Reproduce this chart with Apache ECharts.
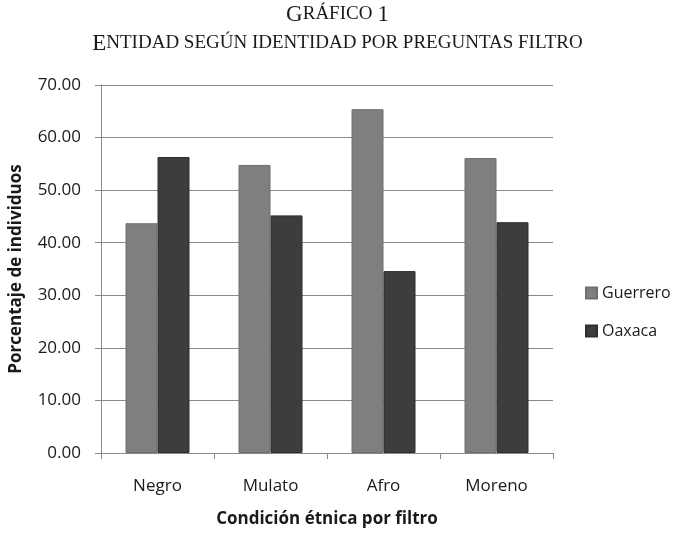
<!DOCTYPE html>
<html>
<head>
<meta charset="utf-8">
<script src="https://cdn.jsdelivr.net/npm/echarts@6/dist/echarts.min.js"></script>
<style>
  html, body { margin: 0; padding: 0; background: #fff; }
  #chart { width: 675px; height: 537px; }
</style>
</head>
<body>
<div id="chart"></div>
<script>
// Categories and percentage values by state
const categories = ['Negro', 'Mulato', 'Afro', 'Moreno'];
const guerrero = [43.7, 54.8, 65.4, 56.1];
const oaxaca = [56.3, 45.2, 34.6, 43.9];
const seriesNames = ['Guerrero', 'Oaxaca'];

const chart = echarts.init(document.getElementById('chart'), null, { renderer: 'canvas' });

const uiFont = '"Open Sans", "Noto Sans", sans-serif';
const serif = '"Liberation Serif", "DejaVu Serif", serif';

chart.setOption({
  backgroundColor: '#ffffff',
  animation: false,
  title: [{
    left: 'center',
    top: 0,
    padding: 0,
    // small-caps heading built from two font sizes
    text: '{b|G}{s|RÁFICO} {b|1}\n{b|E}{s|NTIDAD SEGÚN IDENTIDAD POR PREGUNTAS FILTRO}',
    textStyle: {
      fontWeight: 'normal',
      rich: {
        b: { fontFamily: serif, fontSize: 23, fontWeight: 'normal', color: '#1a1a1a', lineHeight: 29 },
        s: { fontFamily: serif, fontSize: 19, fontWeight: 'normal', color: '#1a1a1a', lineHeight: 29 }
      }
    }
  }],
  legend: {
    orient: 'vertical',
    left: 580,
    top: 279,
    itemWidth: 11,
    itemHeight: 11,
    itemGap: 20,
    icon: 'rect',
    textStyle: { fontFamily: uiFont, fontSize: 16, lineHeight: 18, color: '#1a1a1a' },
    data: seriesNames
  },
  grid: { left: 100, top: 85, width: 453, height: 368, containLabel: false },
  xAxis: {
    type: 'category',
    data: categories,
    name: 'Condición étnica por filtro',
    nameLocation: 'middle',
    nameGap: 58,
    nameTextStyle: { fontFamily: uiFont, fontSize: 17, fontWeight: 'bold', color: '#1a1a1a' },
    axisLine: { lineStyle: { color: '#8a8a8a', width: 1 } },
    axisTick: { show: true, length: 6, inside: false, lineStyle: { color: '#8a8a8a' } },
    axisLabel: { fontFamily: uiFont, fontSize: 17, color: '#1a1a1a', margin: 25 }
  },
  yAxis: {
    type: 'value',
    min: 0,
    max: 70,
    interval: 10,
    name: 'Porcentaje de individuos',
    nameLocation: 'middle',
    nameGap: 76,
    nameTextStyle: { fontFamily: uiFont, fontSize: 17, fontWeight: 'bold', color: '#1a1a1a' },
    axisLine: { show: true, lineStyle: { color: '#8a8a8a', width: 1 } },
    axisTick: { show: true, length: 6, lineStyle: { color: '#8a8a8a' } },
    axisLabel: {
      fontFamily: uiFont, fontSize: 17, color: '#1a1a1a', margin: 20,
      formatter: v => v.toFixed(2)
    },
    splitLine: { show: true, lineStyle: { color: '#8a8a8a', width: 1 } }
  },
  series: [
    {
      name: seriesNames[0],
      type: 'bar',
      data: guerrero,
      barWidth: 32,
      barGap: '0%',
      itemStyle: { color: '#7f7f7f', borderColor: '#6e6e6e', borderWidth: 1 }
    },
    {
      name: seriesNames[1],
      type: 'bar',
      data: oaxaca,
      barWidth: 32,
      barGap: '0%',
      itemStyle: { color: '#3d3d3d', borderColor: '#2e2e2e', borderWidth: 1 }
    }
  ]
});
</script>
</body>
</html>
